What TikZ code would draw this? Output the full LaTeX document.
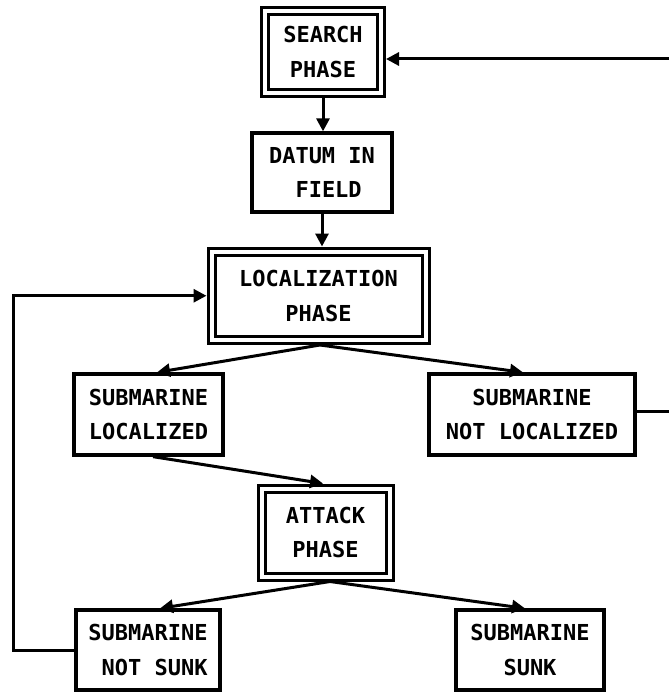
\documentclass[tikz,border=0pt]{standalone}
\usepackage{fontspec}
\setmonofont{DejaVu Sans Mono}
\usetikzlibrary{arrows.meta,calc}
\begin{document}
\begin{tikzpicture}[x=1pt,y=-1pt,
  box/.style={draw, line width=3.3pt, rectangle, align=center, inner sep=0pt,
    font=\ttfamily\bfseries\fontsize{22}{34.5}\selectfont},
  dbox/.style={box, line width=3pt, double, double distance=4pt, outer sep=5pt},
  conn/.style={line width=3pt, -{Triangle[length=13pt,width=13pt]}},
  plainline/.style={line width=3pt}]
\useasboundingbox (0,0) rectangle (669,693);

\node[dbox, minimum width=116pt, minimum height=81.5pt] (search) at (323,51.75) {SEARCH\\PHASE};
\node[box, minimum width=140pt, minimum height=79pt] (datum) at (322,172.5) {DATUM IN\\\ FIELD};
\node[dbox, minimum width=214pt, minimum height=88.5pt] (locph) at (318.5,295.75) {LOCALIZATION\\PHASE};
\node[box, minimum width=149pt, minimum height=81pt] (subloc) at (148.5,414.5) {SUBMARINE\\LOCALIZED};
\node[box, minimum width=206pt, minimum height=81pt] (notloc) at (532,414.5) {SUBMARINE\\NOT LOCALIZED};
\node[dbox, minimum width=128pt, minimum height=88pt] (attack) at (325.5,532.5) {ATTACK\\PHASE};
\node[box, minimum width=144pt, minimum height=80pt, align=right] (notsunk) at (148,650) {SUBMARINE\\NOT SUNK};
\node[box, minimum width=148pt, minimum height=80pt] (sunk) at (530,650) {SUBMARINE\\SUNK};

\coordinate (rtop) at (669,59);
\coordinate (rbot) at (669,411);
\coordinate (lx) at (13,0);

\draw[conn] (search.south) -- (search.south |- datum.north);
\draw[conn] (datum.south) -- (datum.south |- locph.north);
\draw[conn] (rtop) -- (rtop -| search.east);
\draw[plainline] (rbot -| notloc.east) -- (rbot);
\draw[conn] ([xshift=1.5pt]locph.south) -- ([xshift=8.5pt]subloc.north);
\draw[conn] ([xshift=1.5pt]locph.south) -- ([xshift=-9pt]notloc.north);
\draw[conn] ([xshift=4.5pt]subloc.south) -- ([xshift=-2.5pt]attack.north);
\draw[conn] ([xshift=4.5pt]attack.south) -- ([xshift=12pt]notsunk.north);
\draw[conn] ([xshift=4.5pt]attack.south) -- ([xshift=-5pt]sunk.north);
\draw[conn] (notsunk.west) -- (lx |- notsunk.west) -- (lx |- locph.west) -- (locph.west);
\end{tikzpicture}
\end{document}
